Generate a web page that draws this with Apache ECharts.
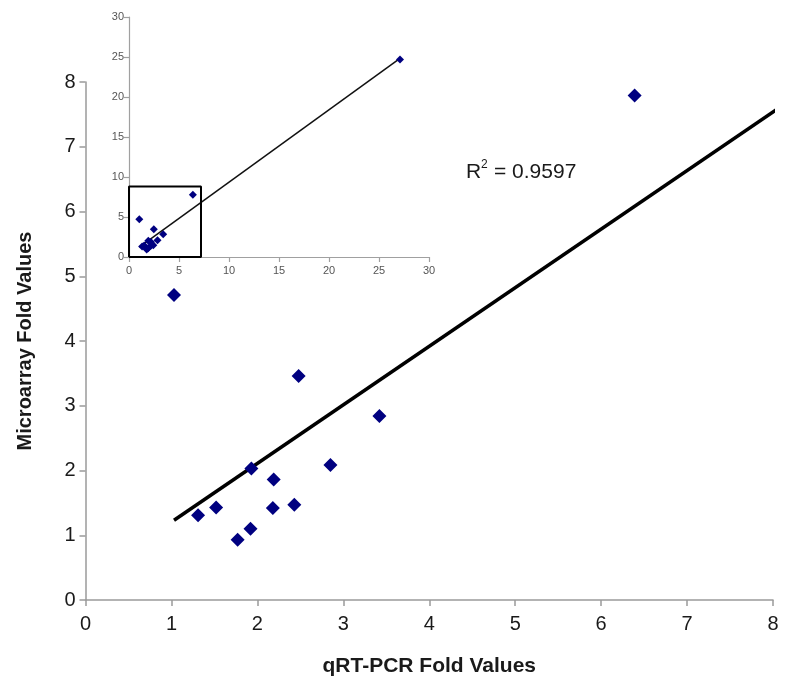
<!DOCTYPE html>
<html>
<head>
<meta charset="utf-8">
<script src="https://cdn.jsdelivr.net/npm/echarts@6/dist/echarts.min.js"></script>
<style>html,body{margin:0;padding:0;background:#fff}#c{width:788px;height:694px}</style>
</head>
<body>
<div id="c"></div>
<script>
// Data
var qpcrValues = [6.39, 1.03, 2.48, 3.42, 2.85, 1.93, 2.19, 2.43, 2.18, 1.52, 1.31, 1.92, 1.77];
var microarrayValues = [7.79, 4.71, 3.46, 2.84, 2.085, 2.03, 1.86, 1.47, 1.42, 1.43, 1.31, 1.10, 0.93];
var qpcrOutlier = [27.1];
var microarrayOutlier = [24.7];
var mainTicks = [0, 1, 2, 3, 4, 5, 6, 7, 8];
var insetTicks = [0, 5, 10, 15, 20, 25, 30];
var zoomBoxX = [0, 0, 7.2, 7.2, 0];
var zoomBoxY = [0, 8.8, 8.8, 0, 0];
var r2Label = '0.9597';

var allX = qpcrValues.concat(qpcrOutlier);
var allY = microarrayValues.concat(microarrayOutlier);

// least-squares trendline over all points (as in the original Excel trendline)
function fit(xs, ys) {
  var n = xs.length, mx = 0, my = 0;
  for (var i = 0; i < n; i++) { mx += xs[i]; my += ys[i]; }
  mx /= n; my /= n;
  var sxy = 0, sxx = 0;
  for (var j = 0; j < n; j++) { sxy += (xs[j] - mx) * (ys[j] - my); sxx += (xs[j] - mx) * (xs[j] - mx); }
  var b = sxy / sxx;
  return { slope: b, intercept: my - b * mx };
}
var f = fit(allX, allY);
var xMin = Math.min.apply(null, allX), xMax = Math.max.apply(null, allX);
var trend = [[xMin, f.intercept + f.slope * xMin], [xMax, f.intercept + f.slope * xMax]];

var mainPts = qpcrValues.map(function (x, i) { return [x, microarrayValues[i]]; });
var insetPts = allX.map(function (x, i) { return [x, allY[i]]; });
var boxPts = zoomBoxX.map(function (x, i) { return [x, zoomBoxY[i]]; });

var font = 'Liberation Sans, Arial, sans-serif';
var mainAxisCommon = {
  type: 'value', min: mainTicks[0], max: mainTicks[mainTicks.length - 1], interval: 1,
  axisLine: { show: true, lineStyle: { color: '#9a9a9a', width: 1.5 } },
  axisTick: { show: true, length: 6, lineStyle: { color: '#9a9a9a', width: 1.5 } },
  splitLine: { show: false },
  axisLabel: { color: '#1a1a1a', fontSize: 20, fontFamily: font }
};
var insetAxisCommon = {
  type: 'value', min: insetTicks[0], max: insetTicks[insetTicks.length - 1], interval: 5,
  axisLine: { show: true, lineStyle: { color: '#a0a0a0', width: 1.2 } },
  axisTick: { show: true, length: 5, lineStyle: { color: '#a0a0a0', width: 1.2 } },
  splitLine: { show: false },
  axisLabel: { color: '#555', fontSize: 11, fontFamily: font, margin: 5 }
};

var chart = echarts.init(document.getElementById('c'), null, { renderer: 'canvas' });
chart.setOption({
  animation: false,
  backgroundColor: '#fff',
  grid: [
    { left: 85.5, right: 15, top: 82, bottom: 94 },
    { left: 129, top: 17, width: 300, height: 240 }
  ],
  xAxis: [
    Object.assign({}, mainAxisCommon, {
      gridIndex: 0,
      name: 'qRT-PCR Fold Values', nameLocation: 'middle', nameGap: 56,
      nameTextStyle: { color: '#1a1a1a', fontSize: 21, fontWeight: 'bold', fontFamily: font },
      axisLabel: Object.assign({}, mainAxisCommon.axisLabel, { margin: 14 })
    }),
    Object.assign({}, insetAxisCommon, { gridIndex: 1, axisLabel: Object.assign({}, insetAxisCommon.axisLabel, { margin: 8 }) })
  ],
  yAxis: [
    Object.assign({}, mainAxisCommon, {
      gridIndex: 0,
      name: 'Microarray Fold Values', nameLocation: 'middle', nameGap: 50,
      nameTextStyle: { color: '#1a1a1a', fontSize: 20, fontWeight: 'bold', fontFamily: font },
      axisLabel: Object.assign({}, mainAxisCommon.axisLabel, { margin: 10 })
    }),
    Object.assign({}, insetAxisCommon, { gridIndex: 1 })
  ],
  series: [
    {
      type: 'line', xAxisIndex: 0, yAxisIndex: 0, data: trend, symbol: 'none',
      lineStyle: { color: '#000', width: 3.5 }, silent: true, z: 2
    },
    {
      type: 'scatter', xAxisIndex: 0, yAxisIndex: 0, data: mainPts,
      symbol: 'diamond', symbolSize: 14, itemStyle: { color: '#000080', opacity: 1 }, z: 3
    },
    {
      type: 'line', xAxisIndex: 1, yAxisIndex: 1, data: trend, symbol: 'none',
      lineStyle: { color: '#111', width: 1.5 }, silent: true, z: 2
    },
    {
      type: 'scatter', xAxisIndex: 1, yAxisIndex: 1, data: insetPts,
      symbol: 'diamond', symbolSize: 8, itemStyle: { color: '#000080', opacity: 1 }, z: 3
    },
    {
      type: 'line', xAxisIndex: 1, yAxisIndex: 1, data: boxPts, symbol: 'none',
      lineStyle: { color: '#000', width: 2 }, silent: true, z: 4
    }
  ],
  graphic: [
    {
      type: 'group', left: 466, top: 159,
      children: [
        { type: 'text', x: 0, y: 0, style: { text: 'R', fontSize: 21, fontFamily: font, fill: '#1a1a1a' } },
        { type: 'text', x: 15, y: -3, style: { text: '2', fontSize: 12, fontFamily: font, fill: '#1a1a1a' } },
        { type: 'text', x: 28, y: 0, style: { text: '= ' + r2Label, fontSize: 21, fontFamily: font, fill: '#1a1a1a' } }
      ]
    }
  ]
});
</script>
</body>
</html>
